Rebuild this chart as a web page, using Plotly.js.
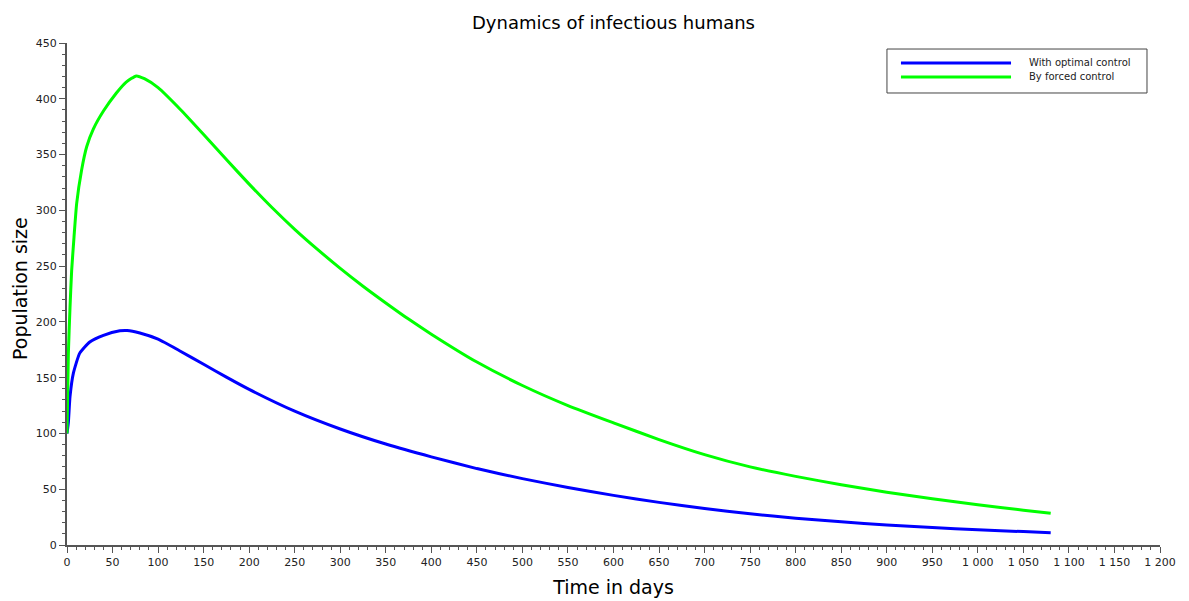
<!DOCTYPE html>
<html>
<head>
<meta charset="utf-8">
<script src="https://cdn.plot.ly/plotly-3.0.1.min.js"></script>
<style>
  html, body { margin: 0; padding: 0; background: #ffffff; }
  #chart { width: 1189px; height: 601px; }
</style>
</head>
<body>
<div id="chart"></div>
<script>
// Series
const optimalDays = [0, 1.5, 3.3, 7, 14, 25, 40, 58, 66, 80, 100, 125, 150, 175, 200, 250, 300, 350, 400, 450, 500, 550, 600, 650, 700, 750, 800, 850, 900, 950, 1000, 1050, 1080];
const optimalValues = [100, 110, 133, 154, 172, 182, 188, 192, 192.3, 190, 184.5, 173.5, 162, 150.5, 139.5, 120, 104, 90.5, 79, 68.5, 59.5, 51.5, 44.5, 38.2, 32.7, 28, 24, 20.8, 18, 15.6, 13.6, 12, 11];

const forcedDays = [0, 1.5, 3.3, 5.1, 7.7, 10.6, 16, 21.6, 29, 40, 54, 65, 76, 85, 100, 125, 150, 175, 200, 225, 250, 275, 300, 325, 350, 375, 400, 450, 500, 550, 600, 650, 700, 750, 800, 850, 900, 950, 1000, 1050, 1080];
const forcedValues = [100, 172, 213, 246, 276, 306, 336, 357, 373, 389, 405, 415, 420.5, 418, 410, 390, 368, 345.5, 323.5, 302.5, 283, 265, 248, 232, 217, 202.5, 189, 164, 143, 125, 109.5, 94.5, 81, 70, 61.5, 54, 47.3, 41.5, 36, 31.2, 28.5];

const seriesNames = ["With optimal control", "By forced control"];
const seriesColors = ["#0000ff", "#00ff00"];

const chartTitle = "Dynamics of infectious humans";
const xTitle = "Time in days";
const yTitle = "Population size";

const traces = [
  { x: optimalDays, y: optimalValues, name: seriesNames[0], type: "scatter", mode: "lines",
    line: { color: seriesColors[0], width: 3, shape: "spline", smoothing: 0.5 } },
  { x: forcedDays, y: forcedValues, name: seriesNames[1], type: "scatter", mode: "lines",
    line: { color: seriesColors[1], width: 3, shape: "spline", smoothing: 0.5 } }
];

const axisColor = "#555555";
const tickFont = { family: "DejaVu Sans", size: 11, color: "#222222" };
const axisTitleFont = { family: "DejaVu Sans", size: 19, color: "#000000" };

// custom legend (Scilab style, long sample lines)
const legBox = { x0: 0.7502, x1: 0.9881, y0: 0.9004, y1: 0.988 };
const legLineX = [0.763, 0.8637];
const legRowY = [0.9602, 0.9323];
const legTextX = 0.8783;

const shapes = [
  { type: "rect", xref: "paper", yref: "paper", x0: legBox.x0, x1: legBox.x1, y0: legBox.y0, y1: legBox.y1,
    line: { color: "#444444", width: 1 }, fillcolor: "#ffffff" }
];
const annotations = [
  { xref: "paper", yref: "paper", x: -0.043, y: 0.51, xanchor: "center", yanchor: "middle",
    textangle: -90, text: yTitle, showarrow: false, font: axisTitleFont }
];
seriesNames.forEach((n, i) => {
  shapes.push({ type: "line", xref: "paper", yref: "paper", x0: legLineX[0], x1: legLineX[1], y0: legRowY[i], y1: legRowY[i],
    line: { color: seriesColors[i], width: 3 } });
  annotations.push({ xref: "paper", yref: "paper", x: legTextX, y: legRowY[i], xanchor: "left", yanchor: "middle",
    text: n, showarrow: false, font: { family: "DejaVu Sans", size: 10, color: "#222222" } });
});

const layout = {
  width: 1189, height: 601,
  paper_bgcolor: "#ffffff", plot_bgcolor: "#ffffff",
  margin: { l: 67, r: 29, t: 43, b: 56, pad: 0 },
  separators: ". ",
  showlegend: false,
  title: { text: chartTitle, x: 0.5, xref: "paper", y: 0.963, yref: "container", yanchor: "middle",
    font: { family: "DejaVu Sans", size: 18, color: "#000000" } },
  xaxis: {
    range: [0, 1200], dtick: 50, tick0: 0, tickformat: ",d",
    showgrid: false, zeroline: false, showline: true, linecolor: axisColor, linewidth: 2,
    ticks: "outside", ticklen: 6, tickwidth: 1, tickcolor: axisColor,
    minor: { dtick: 10, ticks: "outside", ticklen: 3, tickcolor: axisColor, showgrid: false },
    tickfont: tickFont,
    title: { text: xTitle, standoff: 12, font: axisTitleFont },
    automargin: false, fixedrange: true
  },
  yaxis: {
    range: [0, 450], dtick: 50, tick0: 0,
    showgrid: false, zeroline: false, showline: true, linecolor: axisColor, linewidth: 2,
    ticks: "outside", ticklen: 6, tickwidth: 1, tickcolor: axisColor,
    minor: { dtick: 10, ticks: "outside", ticklen: 3, tickcolor: axisColor, showgrid: false },
    tickfont: tickFont,
    automargin: false, fixedrange: true
  },
  shapes: shapes,
  annotations: annotations
};

Plotly.newPlot("chart", traces, layout, { displayModeBar: false, staticPlot: true });
</script>
</body>
</html>
